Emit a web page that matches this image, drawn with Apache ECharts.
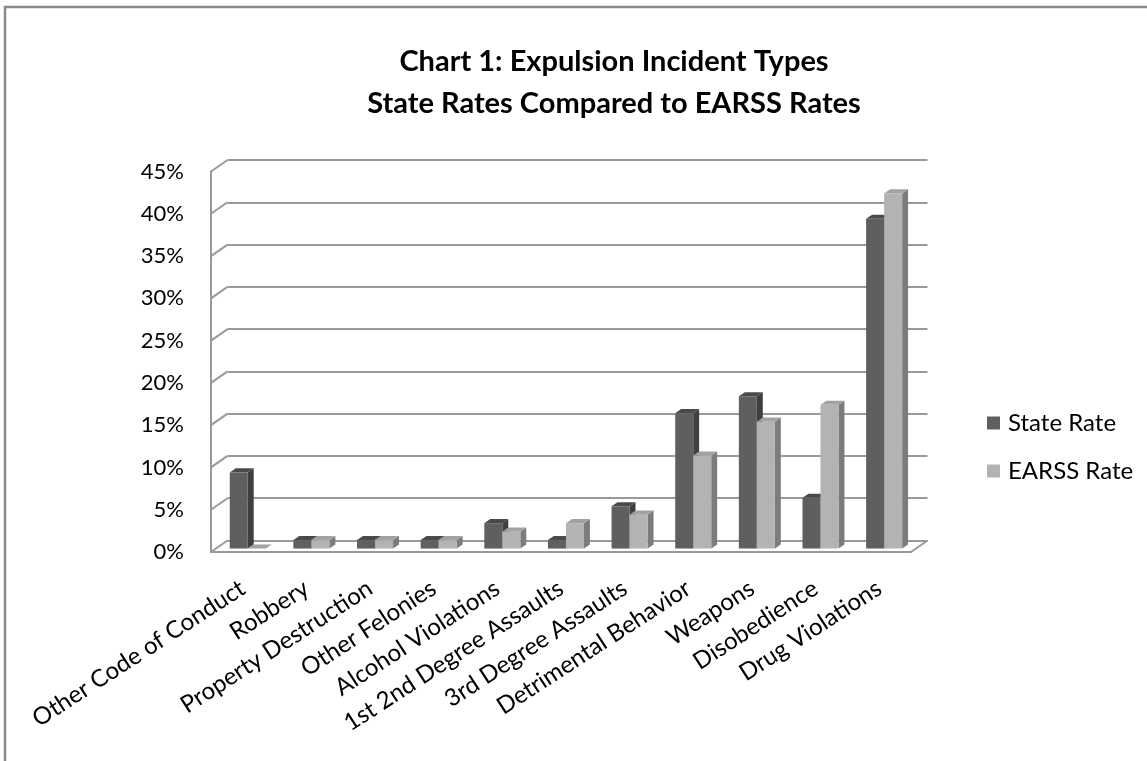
<!DOCTYPE html>
<html>
<head>
<meta charset="utf-8">
<script src="https://cdn.jsdelivr.net/npm/echarts@6/dist/echarts.min.js"></script>
<style>
  html, body { margin: 0; padding: 0; background: #ffffff; }
  #chart { width: 1147px; height: 761px; }
</style>
</head>
<body>
<div id="chart"></div>
<script>
// ---- data ----
const categories = [
  'Other Code of Conduct', 'Robbery', 'Property Destruction', 'Other Felonies',
  'Alcohol Violations', '1st 2nd Degree Assaults', '3rd Degree Assaults',
  'Detrimental Behavior', 'Weapons', 'Disobedience', 'Drug Violations'
];
const stateRate = [9, 1, 1, 1, 3, 1, 5, 16, 18, 6, 39];
const earssRate = [0, 1, 1, 1, 2, 3, 4, 11, 15, 17, 42];
const seriesNames = ['State Rate', 'EARSS Rate'];
const titleLines = ['Chart 1: Expulsion Incident Types', 'State Rates Compared to EARSS Rates'];
const yMin = 0, yMax = 45, yStep = 5;
const yTicks = [0, 5, 10, 15, 20, 25, 30, 35, 40, 45];

// ---- layout of the pseudo 3-D box ----
const W = 1147, H = 761;
const FRONT = { left: 211, top: 171.5, right: 911, bottom: 552 }; // front plane of the box
const DEPTH = [16.5, -11.5];      // offset from front plane to back wall
const FACE_AT = 0.3;              // depth position of the bar front faces
const BAR_DEPTH = 0.36;           // bar thickness, as a share of the box depth
const BAR_FRAC = 0.283;           // bar width, as a share of one category band
const LINE = '#999999';
const FONT = 'Lato';

const colors = {
  state: { front: '#5f5f5f', side: '#3f3f3f', top: '#4a4a4a' },
  earss: { front: '#b3b3b3', side: '#7c7c7c', top: '#a2a2a2' }
};

function renderBar(slot, col) {
  return function (params, api) {
    const i = api.value(0), v = api.value(1);
    const band = api.size([1, 0])[0];
    const w = band * BAR_FRAC;
    const base = api.coord([i, 0]);
    const top = api.coord([i, v]);
    const fx = FACE_AT * DEPTH[0], fy = FACE_AT * DEPTH[1];
    const dx = BAR_DEPTH * DEPTH[0], dy = BAR_DEPTH * DEPTH[1];
    const x0 = base[0] + fx + (slot === 0 ? -w : 0);
    const x1 = x0 + w;
    const yb = base[1] + fy, yt = top[1] + fy;
    return {
      type: 'group',
      children: [
        { type: 'polygon', shape: { points: [[x1, yb], [x1 + dx, yb + dy], [x1 + dx, yt + dy], [x1, yt]] },
          style: { fill: col.side } },
        { type: 'polygon', shape: { points: [[x0, yt], [x1, yt], [x1 + dx, yt + dy], [x0 + dx, yt + dy]] },
          style: { fill: col.top } },
        { type: 'rect', shape: { x: x0, y: yt, width: w, height: yb - yt },
          style: { fill: col.front } }
      ]
    };
  };
}

// side-wall grid lines and the floor's right edge
function renderWall(params, api) {
  const cs = params.coordSys;
  const v = api.value(1);
  const y = api.coord([0, v])[1];
  const children = [{
    type: 'line',
    shape: { x1: cs.x, y1: y, x2: cs.x + DEPTH[0], y2: y + DEPTH[1] },
    style: { stroke: LINE, lineWidth: 2 }
  }];
  if (v === yMin) {
    children.push({
      type: 'line',
      shape: { x1: cs.x + cs.width, y1: y, x2: cs.x + cs.width + DEPTH[0], y2: y + DEPTH[1] },
      style: { stroke: LINE, lineWidth: 2 }
    });
  }
  return { type: 'group', children: children };
}

const chart = echarts.init(document.getElementById('chart'), null, { renderer: 'canvas' });

const option = {
  backgroundColor: '#ffffff',
  animation: false,
  graphic: [
    { type: 'rect', z: -10, shape: { x: 5, y: 7, width: W + 40, height: H + 40 },
      style: { fill: 'none', stroke: '#8a8a8a', lineWidth: 2.5 } },
    { type: 'text', x: 614, y: 83, style: {
        text: titleLines.join('\n'), align: 'center', verticalAlign: 'middle',
        fontFamily: FONT, fontWeight: 'bold', fontSize: 29, lineHeight: 42, fill: '#000000' } }
  ],
  legend: {
    data: seriesNames,
    orient: 'vertical',
    left: 982,
    top: 406,
    icon: 'rect',
    itemWidth: 13,
    itemHeight: 13,
    itemGap: 24,
    textStyle: { fontFamily: FONT, fontSize: 24, color: '#000000', padding: [0, 0, 0, 3] }
  },
  grid: [
    { // back wall
      left: FRONT.left + DEPTH[0], top: FRONT.top + DEPTH[1],
      width: FRONT.right - FRONT.left, height: FRONT.bottom - FRONT.top
    },
    { // front plane
      left: FRONT.left, top: FRONT.top,
      width: FRONT.right - FRONT.left, height: FRONT.bottom - FRONT.top
    }
  ],
  xAxis: [
    { type: 'category', gridIndex: 0, data: categories,
      axisLine: { show: false }, axisTick: { show: false }, axisLabel: { show: false } },
    { type: 'category', gridIndex: 1, data: categories,
      axisLine: { show: true, lineStyle: { color: LINE, width: 2 } },
      axisTick: { show: false },
      axisLabel: { rotate: 33, margin: 34, fontFamily: FONT, fontSize: 24, color: '#000000', interval: 0 } }
  ],
  yAxis: [
    { type: 'value', gridIndex: 0, min: yMin, max: yMax, interval: yStep,
      axisLine: { show: false }, axisTick: { show: false }, axisLabel: { show: false },
      splitLine: { show: true, lineStyle: { color: LINE, width: 2 } } },
    { type: 'value', gridIndex: 1, min: yMin, max: yMax, interval: yStep,
      axisLine: { show: true, lineStyle: { color: LINE, width: 2 } },
      axisTick: { show: false },
      splitLine: { show: false },
      axisLabel: { margin: 27, fontFamily: FONT, fontSize: 22, color: '#000000',
        formatter: function (v) { return v + '%'; } } }
  ],
  series: [
    { type: 'custom', name: 'walls', xAxisIndex: 1, yAxisIndex: 1, silent: true,
      renderItem: renderWall, data: yTicks.map(function (t) { return [0, t]; }) },
    { type: 'custom', name: seriesNames[0], xAxisIndex: 1, yAxisIndex: 1,
      itemStyle: { color: colors.state.front },
      renderItem: renderBar(0, colors.state),
      data: stateRate.map(function (v, i) { return [i, v]; }) },
    { type: 'custom', name: seriesNames[1], xAxisIndex: 1, yAxisIndex: 1,
      itemStyle: { color: colors.earss.front },
      renderItem: renderBar(1, colors.earss),
      data: earssRate.map(function (v, i) { return [i, v]; }) }
  ]
};

chart.setOption(option);
</script>
</body>
</html>
